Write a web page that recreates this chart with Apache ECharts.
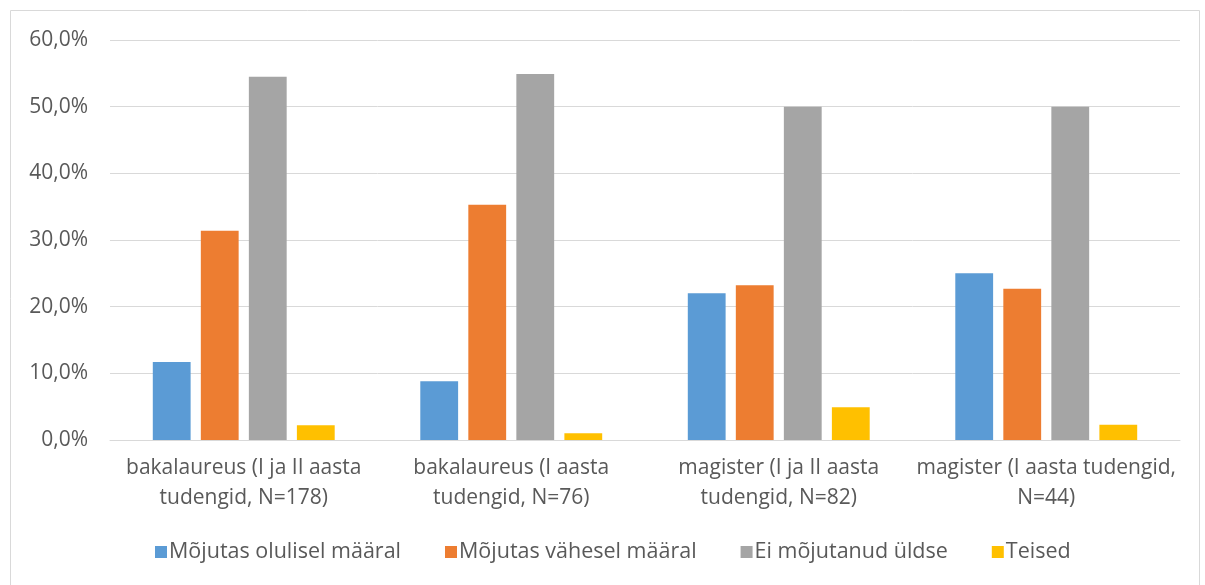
<!DOCTYPE html>
<html>
<head>
<meta charset="utf-8">
<script src="https://cdn.jsdelivr.net/npm/echarts@6/dist/echarts.min.js"></script>
<style>
  html, body { margin: 0; padding: 0; background: #fff; }
  #chart { width: 1205px; height: 585px; }
</style>
</head>
<body>
<div id="chart"></div>
<script>
// andmed (protsendid)
var categories = [
  'bakalaureus (I ja II aasta\ntudengid, N=178)',
  'bakalaureus (I aasta\ntudengid, N=76)',
  'magister (I ja II aasta\ntudengid, N=82)',
  'magister (I aasta tudengid,\nN=44)'
];
var seriesNames = ['Mõjutas olulisel määral', 'Mõjutas vähesel määral', 'Ei mõjutanud üldse', 'Teised'];
var olulisel = [11.7, 8.8, 22.0, 25.0];
var vahesel = [31.4, 35.3, 23.2, 22.7];
var uldse = [54.5, 54.9, 50.0, 50.0];
var teised = [2.2, 1.0, 4.9, 2.3];
var yTicks = [0, 10, 20, 30, 40, 50, 60];

var colors = ['#5b9bd5', '#ed7d31', '#a5a5a5', '#ffc000'];
var font = 'Open Sans';

var chart = echarts.init(document.getElementById('chart'));
var values = [olulisel, vahesel, uldse, teised];

chart.setOption({
  animation: false,
  color: colors,
  textStyle: { fontFamily: font },
  graphic: [{
    type: 'rect',
    shape: { x: 10.5, y: 10.5, width: 1189, height: 600 },
    style: { fill: 'none', stroke: '#d9d9d9', lineWidth: 1 },
    silent: true
  }],
  grid: { left: 110, right: 25, top: 40, bottom: 145 },
  legend: {
    top: 536,
    left: 150,
    itemWidth: 12,
    itemHeight: 12,
    itemGap: 44,
    icon: 'rect',
    textStyle: { fontSize: 21.5, color: '#595959', fontFamily: font, padding: [0, 0, 0, -3] },
    data: seriesNames
  },
  xAxis: {
    type: 'category',
    data: categories,
    axisLine: { lineStyle: { color: '#d9d9d9' } },
    axisTick: { show: false },
    axisLabel: {
      color: '#595959',
      fontSize: 21,
      lineHeight: 30,
      margin: 13,
      interval: 0,
      fontFamily: font
    }
  },
  yAxis: {
    type: 'value',
    min: 0,
    max: 60,
    interval: 10,
    axisLine: { show: false },
    axisTick: { show: false },
    splitLine: { lineStyle: { color: '#d9d9d9' } },
    axisLabel: {
      color: '#595959',
      fontSize: 21,
      margin: 22,
      fontFamily: font,
      formatter: function (v) {
        return yTicks.indexOf(v) >= 0 ? v.toFixed(1).replace('.', ',') + '%' : '';
      }
    }
  },
  series: values.map(function (d, i) {
    return {
      name: seriesNames[i],
      type: 'bar',
      data: d,
      barGap: '27%',
      barCategoryGap: '32%'
    };
  })
});
</script>
</body>
</html>
